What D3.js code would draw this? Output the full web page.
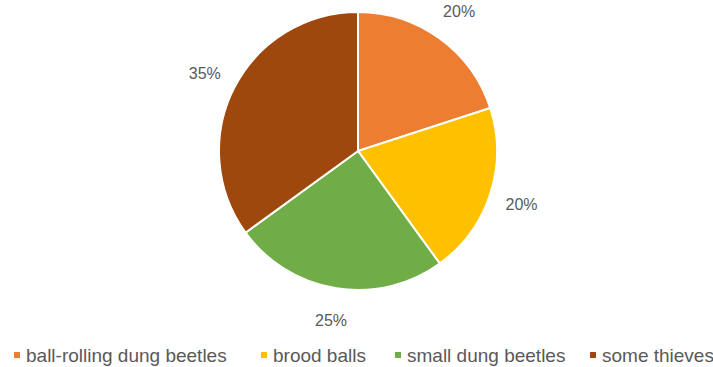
<!DOCTYPE html>
<html>
<head>
<meta charset="utf-8">
<script src="https://cdn.jsdelivr.net/npm/d3@7"></script>
<style>
  html, body { margin: 0; padding: 0; background: #fff; }
  svg { display: block; font-family: "Liberation Sans", Arial, sans-serif; }
</style>
</head>
<body>
<script>
// data
var categories = ['ball-rolling dung beetles', 'brood balls', 'small dung beetles', 'some thieves'];
var shares = [20, 20, 25, 35];
var labels = ['20%', '20%', '25%', '35%'];
var colors = ['#ED7D31', '#FFC000', '#70AD47', '#9E480E'];

var W = 713, H = 367;
var cx = 358, cy = 151, R = 139, labelR = 172;
var legendX = [14, 261, 395, 590]; // marker x of each legend item

var svg = d3.select('body').append('svg')
    .attr('width', W)
    .attr('height', H);

var pie = d3.pie().sort(null).value(function(d) { return d; });
var arcs = pie(shares);

var arc = d3.arc().innerRadius(0).outerRadius(R);
var labelArc = d3.arc().innerRadius(labelR).outerRadius(labelR);

var g = svg.append('g').attr('transform', 'translate(' + cx + ',' + cy + ')');

g.selectAll('path.slice')
    .data(arcs)
  .enter().append('path')
    .attr('class', 'slice')
    .attr('d', arc)
    .attr('fill', function(d, i) { return colors[i]; })
    .attr('stroke', '#fff')
    .attr('stroke-width', 2);

g.selectAll('text.lbl')
    .data(arcs)
  .enter().append('text')
    .attr('class', 'lbl')
    .attr('transform', function(d) { return 'translate(' + labelArc.centroid(d) + ')'; })
    .attr('text-anchor', 'middle')
    .attr('dy', '0.35em')
    .attr('font-size', 16)
    .attr('fill', '#595959')
    .text(function(d, i) { return labels[i]; });

// legend
var ly = 355;
var items = svg.append('g').attr('class', 'legend')
  .selectAll('g')
    .data(categories)
  .enter().append('g')
    .attr('transform', function(d, i) { return 'translate(' + legendX[i] + ',' + ly + ')'; });

items.append('rect')
    .attr('x', 0)
    .attr('y', -3)
    .attr('width', 6)
    .attr('height', 6)
    .attr('fill', function(d, i) { return colors[i]; });

items.append('text')
    .attr('x', 12)
    .attr('dy', '0.35em')
    .attr('font-size', 19)
    .attr('fill', '#595959')
    .text(function(d) { return d; });
</script>
</body>
</html>
